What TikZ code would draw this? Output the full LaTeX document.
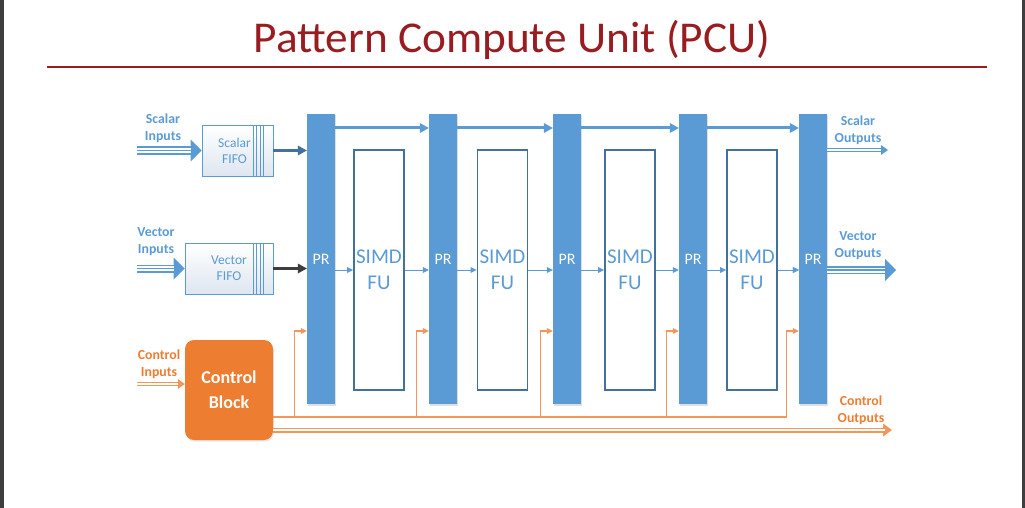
\documentclass[tikz,border=0pt]{standalone}
\usepackage{fontspec}
\setmainfont{Carlito}
\usetikzlibrary{arrows.meta,shadows}
\begin{document}
\begin{tikzpicture}[x=1pt,y=-1pt,
  pr/.style={fill=prblue,minimum width=28pt,minimum height=290pt,inner sep=0pt,
    text=white,font=\fontsize{16}{18}\selectfont,
    drop shadow={shadow xshift=1pt,shadow yshift=-1.5pt,opacity=.25}},
  simd/.style={draw=fudark,line width=1.8pt,fill=white,minimum width=50pt,minimum height=240pt,
    inner sep=0pt,text=prblue,align=center,font=\fontsize{21}{26}\selectfont},
  fifo/.style={draw=prblue,line width=.8pt,top color=white,bottom color=fifobg,
    minimum height=51pt,inner sep=0pt,text=prblue,align=center,font=\fontsize{13.5}{16}\selectfont},
  lbl/.style={align=center,font=\bfseries\fontsize{13.8}{17}\selectfont},
  pipe3/.style={draw=#1,line width=8pt,-{Triangle[width=22pt,length=11pt,line width=0pt]},
    postaction={draw=white,line width=5pt,-,shorten >=11pt},
    postaction={draw=#1,line width=1.5pt,-,shorten >=11pt}},
  pipe2/.style={draw=#1,line width=4.5pt,-{Triangle[width=10pt,length=7pt,line width=0pt]},
    postaction={draw=white,line width=1.8pt,-,shorten >=7pt}},
  fat/.style={draw=#1,line width=3pt,-{Triangle[width=10pt,length=9pt,line width=0pt]}},
  thin/.style={draw=#1,line width=1pt,-{Triangle[width=6pt,length=6pt,line width=0pt]}},
  wire/.style={draw=ctrlor,line width=1.3pt}]
\definecolor{prblue}{RGB}{91,155,213}
\definecolor{fudark}{RGB}{65,113,156}
\definecolor{fifobg}{RGB}{222,230,240}
\definecolor{ctrlor}{RGB}{237,125,49}
\definecolor{wireor}{RGB}{242,150,90}
\definecolor{titlered}{RGB}{152,28,32}
\definecolor{edgegray}{RGB}{62,62,64}
\useasboundingbox (0,0) rectangle (1025,508);
\fill[edgegray] (0,0) rectangle (4,508);
\fill[edgegray] (1022,0) rectangle (1025,508);
\node[text=titlered,font=\fontsize{44}{46}\selectfont,xscale=1.03] (title) at (512,40) {Pattern Compute Unit (PCU)};
\draw[titlered,line width=2.2pt] (47,67) -- (987,67);
\foreach \i/\x in {1/321,2/443,3/567,4/693,5/813}
  \node[pr] (pr\i) at (\x,259) {PR};
\foreach \i/\x in {1/379,2/502.5,3/630,4/752}
  \node[simd] (fu\i) at (\x,270) {SIMD\\FU};
\coordinate (sbar) at (0,128);
\coordinate (bus) at (0,417);
\coordinate (cbar) at (0,331);
\foreach \i/\j in {1/2,2/3,3/4,4/5} {
  \draw[fat=prblue] (pr\i.east |- sbar) -- (pr\j.west |- sbar);
  \draw[thin=prblue] (pr\i.east |- fu\i.west) -- (fu\i.west);
  \draw[thin=prblue] (fu\i.east) -- (pr\j.west |- fu\i.east);
}
\node[fifo,minimum width=71pt] (fifoS) at (237.5,150.5) {\hspace*{-6pt}Scalar\\\hspace*{-6pt}FIFO};
\node[fifo,minimum width=88pt] (fifoV) at (229,268.5) {Vector\\FIFO};
\foreach \f in {fifoS,fifoV}
  \foreach \d in {10,13.5,17,20.5}
    \draw[prblue,line width=.6pt] ([xshift=-\d pt]\f.north east) -- ([xshift=-\d pt]\f.south east);
\node[fill=ctrlor,rounded corners=9pt,minimum width=88pt,minimum height=100pt,text=white,
  align=center,font=\bfseries\fontsize{18}{25}\selectfont,
  drop shadow={shadow xshift=1pt,shadow yshift=-1.5pt,opacity=.2}] (ctrl) at (229,390) {Control\\Block};
\node[lbl,text=prblue] (sinl) at (163,128) {Scalar\\Inputs};
\node[lbl,text=prblue] (vinl) at (156,242) {Vector\\Inputs};
\node[lbl,text=ctrlor] (cinl) at (159,364) {Control\\Inputs};
\node[lbl,text=prblue] (soutl) at (858,130) {Scalar\\Outputs};
\node[lbl,text=prblue] (voutl) at (858,246) {Vector\\Outputs};
\node[lbl,text=ctrlor] (coutl) at (861,410) {Control\\Outputs};
\coordinate (sin) at (137,150.5);
\coordinate (vin) at (137,268.5);
\coordinate (cin) at (137,384);
\coordinate (sout) at (888,150);
\coordinate (vout) at (896,270);
\coordinate (cout) at (892,430);
\draw[pipe3=prblue] (sin) -- (sin -| fifoS.west);
\draw[pipe3=prblue] (vin) -- (vin -| fifoV.west);
\draw[pipe2=wireor] (cin) -- (cin -| ctrl.west);
\draw[fat=fudark] (fifoS.east) -- (pr1.west |- fifoS.east);
\draw[fat=edgegray] (fifoV.east) -- (pr1.west |- fifoV.east);
\draw[pipe2=prblue,line width=4pt] (pr5.east |- sout) -- (sout);
\draw[pipe3=prblue] (pr5.east |- vout) -- (vout);
\draw[thin=prblue] (fu4.east) -- (pr5.west |- fu4.east);
\draw[wire,draw=wireor] (ctrl.east |- bus) -- ([xshift=-12pt]pr5.west |- bus);
\foreach \i in {1,...,5}
  \draw[thin=wireor,line width=1.3pt] ([xshift=-12.5pt]pr\i.west |- bus) |- (pr\i.west |- cbar);
\draw[pipe2=wireor,line width=5pt,-{Triangle[width=13pt,length=9pt,line width=0pt]}] (ctrl.east |- cout) -- (cout);
\end{tikzpicture}
\end{document}
